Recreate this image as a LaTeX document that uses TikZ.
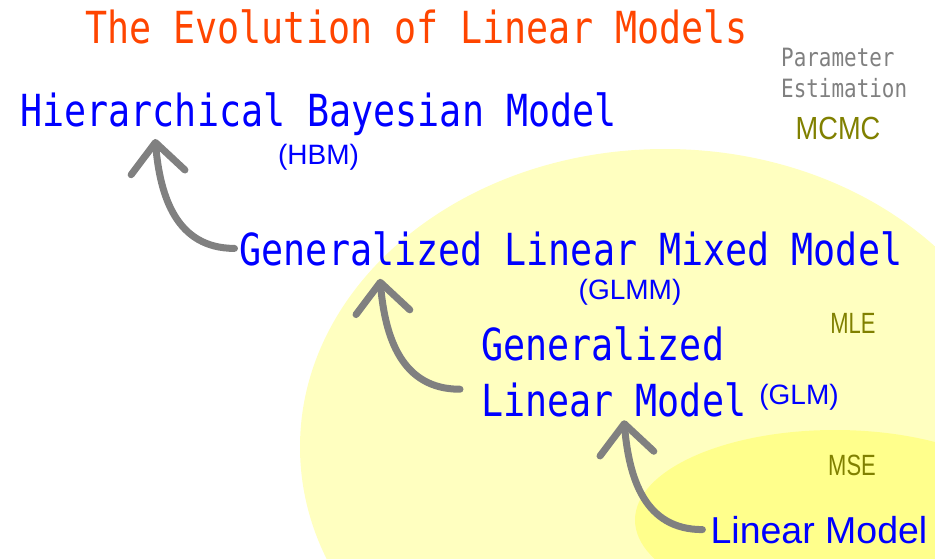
\documentclass[tikz,border=0pt]{standalone}
\usepackage{fontspec}
\usepackage{tikz}
\usetikzlibrary{arrows.meta,positioning}
\newfontfamily\monofont[FakeStretch=0.83]{DejaVu Sans Mono}
\newfontfamily\arialfont{Liberation Sans}
\newfontfamily\narrowfont[FakeStretch=0.85]{Liberation Sans}
\newfontfamily\narrowerfont[FakeStretch=0.75]{Liberation Sans}
\definecolor{titlered}{RGB}{255,69,0}
\definecolor{modelblue}{RGB}{0,0,255}
\definecolor{estolive}{RGB}{128,128,0}
\definecolor{arrowgray}{RGB}{128,128,128}
\definecolor{mleyellow}{RGB}{255,255,192}
\definecolor{mseyellow}{RGB}{255,255,140}
\tikzset{
  titletext/.style={text=titlered, font=\monofont\fontsize{44.2}{56}\selectfont, inner sep=0pt},
  model/.style={text=modelblue, font=\monofont\fontsize{44.2}{56}\selectfont, inner sep=0pt},
  abbr/.style={text=modelblue, font=\arialfont\fontsize{28}{32}\selectfont, inner sep=0pt},
  plainmodel/.style={text=modelblue, font=\arialfont\fontsize{37.5}{40}\selectfont, inner sep=0pt},
  esthead/.style={text=arrowgray, font=\monofont\fontsize{25.2}{31}\selectfont, inner sep=0pt, align=left},
  estmethod/.style={text=estolive, inner sep=0pt},
  growarrow/.style={draw=arrowgray, line width=7pt, line cap=round, -{Straight Barb[length=30pt, width=54pt, round]}},
}

\begin{document}
\begin{tikzpicture}[x=1pt, y=1pt]
  \useasboundingbox (0,0) rectangle (935,-559);

  % Estimation regions
  \begin{scope}
    \clip (0,0) rectangle (935,-559);
    \fill[mleyellow] (665,-447) ellipse [x radius=365, y radius=298];
    \fill[mseyellow] (835,-520) ellipse [x radius=200, y radius=90];
  \end{scope}

  % Title
  \node[titletext, anchor=base] (title) at (416.5,-44) {The Evolution of Linear Models};

  % Models
  \node[model, anchor=base] (hbm) at (318.5,-127) {Hierarchical Bayesian Model};
  \node[abbr, below=7.6pt of hbm] (hbmabbr) {(HBM)};

  \node[model, anchor=base] (glmm) at (571,-265) {Generalized Linear Mixed Model};
  \node[abbr, anchor=base] (glmmabbr) at (630,-299) {(GLMM)};

  \node[model, anchor=north west, align=left] (glm) at (481,-326.4) {Generalized\\Linear Model};
  \node[abbr, anchor=base] (glmabbr) at (799,-404) {(GLM)};

  \node[plainmodel, anchor=base] (lm) at (819,-543) {Linear Model};

  % Estimation methods
  \node[esthead, anchor=north west] (est) at (781,-47.6) {Parameter\\Estimation};
  \node[estmethod, font=\narrowfont\fontsize{32}{34}\selectfont, anchor=base] (mcmc) at (838,-140) {MCMC};
  \node[estmethod, font=\narrowerfont\fontsize{29.3}{32}\selectfont, anchor=base] (mle) at (853,-333) {MLE};
  \node[estmethod, font=\narrowerfont\fontsize{29.3}{32}\selectfont, anchor=base] (mse) at (852,-475) {MSE};

  % Arrows
  \draw[growarrow] ([xshift=-8pt]lm.west) to[out=180, in=-85, looseness=1.1] ([shift={(143pt,-3pt)}]glm.south west);
  \draw[growarrow] ([shift={(-21pt,28pt)}]glm.south west) to[out=180, in=-85, looseness=1.1] ([shift={(140.5pt,-13pt)}]glmm.south west);
  \draw[growarrow] ([xshift=-5pt]glmm.west) to[out=180, in=-85, looseness=1.1] ([shift={(135pt,-2.6pt)}]hbm.south west);

\end{tikzpicture}
\end{document}
